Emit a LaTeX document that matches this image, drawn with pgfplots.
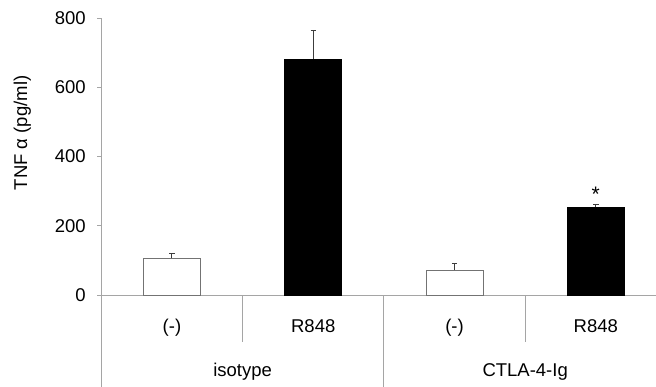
\documentclass[border=0pt]{standalone}
\usepackage{pgfplots}
\pgfplotsset{compat=1.18}
\usepackage{fontspec}
\setmainfont{Liberation Sans}
\definecolor{axgray}{RGB}{165,165,165}
\definecolor{bargray}{RGB}{115,115,115}
\definecolor{errgray}{RGB}{60,60,60}
\begin{document}
\begin{tikzpicture}[font=\fontsize{18.5}{22}\selectfont]
\path[use as bounding box] (-101.3pt,-91pt) rectangle (554.7pt,295pt);
\begin{axis}[
  at={(0,0)}, anchor=south west,
  scale only axis, width=554.7pt, height=277pt,
  xmin=-0.5, xmax=3.426, ymin=0, ymax=800,
  axis lines*=left,
  axis line style={axgray, line width=1pt},
  ytick={0,200,400,600,800},
  xtick=\empty,
  tick style={axgray, line width=1pt},
  tick align=outside, major tick length=4pt,
  /pgf/number format/assume math mode=true,
  yticklabel style={font=\fontsize{18.5}{22}\selectfont, xshift=-8pt},
  clip=false,
]
\addplot[ybar, bar width=57pt, bar shift=0pt, fill=white, draw=bargray, line width=1pt,
  error bars/.cd, y dir=plus, y explicit,
  error bar style={errgray, line width=1pt},
  error mark options={rotate=90, mark size=2.7pt, errgray, line width=1pt}]
  coordinates {(0,106) +- (0,15) (2,72) +- (0,20)};
\addplot[ybar, bar width=57pt, bar shift=0pt, fill=black, draw=black, line width=0.5pt,
  error bars/.cd, y dir=plus, y explicit,
  error bar style={errgray, line width=1pt},
  error mark options={rotate=90, mark size=2.7pt, errgray, line width=1pt}]
  coordinates {(1,681) +- (0,82) (3,253) +- (0,7)};
% category separators
\draw[axgray, line width=1pt] (axis cs:-0.5,0) -- ++(0pt,-100pt);
\draw[axgray, line width=1pt] (axis cs:0.5,0) -- ++(0pt,-47pt);
\draw[axgray, line width=1pt] (axis cs:1.5,0) -- ++(0pt,-100pt);
\draw[axgray, line width=1pt] (axis cs:2.5,0) -- ++(0pt,-47pt);
% category labels
\node[anchor=base, inner sep=0pt] at ([yshift=-37.3pt]axis cs:0,0) {(-)};
\node[anchor=base, inner sep=0pt] at ([yshift=-37.3pt]axis cs:1,0) {R848};
\node[anchor=base, inner sep=0pt] at ([yshift=-37.3pt]axis cs:2,0) {(-)};
\node[anchor=base, inner sep=0pt] at ([yshift=-37.3pt]axis cs:3,0) {R848};
\node[anchor=base, inner sep=0pt] at ([yshift=-81.7pt]axis cs:0.5,0) {isotype};
\node[anchor=base, inner sep=0pt] at ([yshift=-81.7pt]axis cs:2.5,0) {CTLA-4-Ig};
% significance
\node[anchor=base, inner sep=0pt, font=\fontsize{21}{24}\selectfont] at ([yshift=3pt]axis cs:3,260) {*};
% y label
\node[rotate=90, anchor=center, inner sep=0pt] at ([xshift=-79pt]rel axis cs:0,0.585) {TNF α (pg/ml)};
\end{axis}
\end{tikzpicture}
\end{document}
